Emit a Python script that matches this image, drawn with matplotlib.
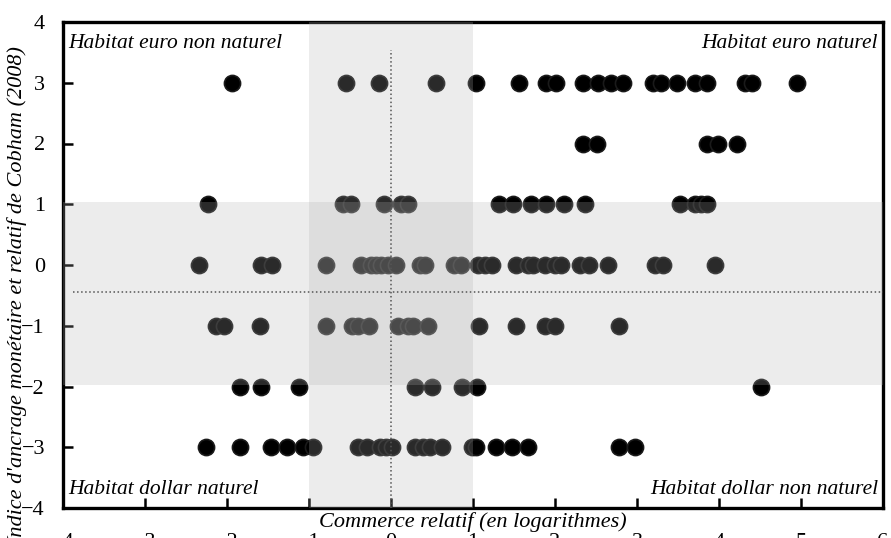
import numpy as np
import matplotlib
matplotlib.use("Agg")
import matplotlib.pyplot as plt

# Commerce relatif (log) for each level of the Cobham index
x_p3 = [-1.94, -0.55, -0.15, 0.55, 1.04, 1.56, 1.89, 2.01, 2.34, 2.52, 2.68, 2.83,
        3.20, 3.29, 3.49, 3.71, 3.85, 4.32, 4.40, 4.95]
x_p2 = [2.34, 2.51, 3.85, 3.99, 4.22]
x_p1 = [-2.23, -0.59, -0.49, -0.09, 0.12, 0.21, 1.32, 1.49, 1.71, 1.89, 2.11, 2.37,
        3.52, 3.71, 3.78, 3.85]
x_0 = [-2.34, -1.59, -1.45, -0.79, -0.37, -0.24, -0.18, -0.12, -0.04, 0.06, 0.35, 0.41,
       0.77, 0.85, 1.06, 1.15, 1.23, 1.52, 1.67, 1.73, 1.88, 2.00, 2.07, 2.30, 2.41,
       2.65, 3.22, 3.32, 3.95]
x_m1 = [-2.13, -2.04, -1.60, -0.79, -0.48, -0.40, -0.27, 0.09, 0.21, 0.27, 0.45, 1.07,
        1.52, 1.88, 2.00, 2.78]
x_m2 = [-1.84, -1.59, -1.12, 0.29, 0.50, 0.87, 1.05, 4.51]
x_m3 = [-2.26, -1.84, -1.46, -1.27, -1.07, -0.95, -0.40, -0.29, -0.13, -0.06, 0.01, 0.29,
        0.39, 0.48, 0.62, 0.99, 1.04, 1.28, 1.48, 1.67, 2.78, 2.98]

rows = {3: x_p3, 2: x_p2, 1: x_p1, 0: x_0, -1: x_m1, -2: x_m2, -3: x_m3}
xs = np.concatenate([np.array(v) for v in rows.values()])
ys = np.concatenate([np.full(len(v), k) for k, v in rows.items()])

# reference lines / bands
x_mean = 0.0
y_mean = -0.45
x_band = (-1.0, 1.0)
y_band = (-1.98, 1.03)

x_ticks = list(range(-4, 7))
y_ticks = list(range(-4, 5))

plt.rcParams["font.family"] = ["Liberation Serif", "DejaVu Serif"]
plt.rcParams["axes.unicode_minus"] = True

fig = plt.figure(figsize=(8.91, 5.38), dpi=100)
ax = fig.add_axes([63 / 891, 30 / 538, 820 / 891, 486 / 538])

ax.scatter(xs, ys, s=135, color="black", edgecolor="#1a1a1a", linewidth=1.2, zorder=2)

# grey bands drawn over the points
band_col = (0.69, 0.69, 0.69)
ax.axvspan(x_band[0], x_band[1], color=band_col, alpha=0.24, lw=0, zorder=3)
ax.axhspan(y_band[0], y_band[1], color=band_col, alpha=0.24, lw=0, zorder=3)

ax.plot([-3.88, 6], [y_mean, y_mean], ls=":", color="#555555", lw=1.1, zorder=4)
ax.plot([x_mean, x_mean], [-4, 3.54], ls=":", color="#555555", lw=1.1, zorder=4)

ax.set_xlim(-4, 6)
ax.set_ylim(-4, 4)
ax.set_xticks(x_ticks)
ax.set_yticks(y_ticks)
ax.set_xticklabels([f"\u2212{abs(t)}" if t < 0 else str(t) for t in x_ticks])
ax.set_yticklabels([f"\u2212{abs(t)}" if t < 0 else str(t) for t in y_ticks])
ax.tick_params(axis="both", direction="in", length=7, width=1.8, labelsize=16)
ax.tick_params(axis="x", pad=18)
ax.tick_params(axis="y", pad=13)
for sp in ax.spines.values():
    sp.set_linewidth(2.4)

# quadrant captions
txt = dict(fontsize=15.5, style="italic", zorder=5)
ax.text(0.006, 0.955, "Habitat euro non naturel", transform=ax.transAxes, ha="left", va="center", **txt)
ax.text(0.994, 0.955, "Habitat euro naturel", transform=ax.transAxes, ha="right", va="center", **txt)
ax.text(0.006, 0.038, "Habitat dollar naturel", transform=ax.transAxes, ha="left", va="center", **txt)
ax.text(0.994, 0.038, "Habitat dollar non naturel", transform=ax.transAxes, ha="right", va="center", **txt)

fig.text(473 / 891, 1 - 522 / 538, "Commerce relatif (en logarithmes)", ha="center", va="center",
         fontsize=16, style="italic")
fig.text(17 / 891, 1 - 295 / 538, "Indice d'ancrage monétaire et relatif de Cobham (2008)",
         rotation=90, ha="center", va="center", fontsize=16, style="italic")

fig.savefig("out.png", dpi=100)
